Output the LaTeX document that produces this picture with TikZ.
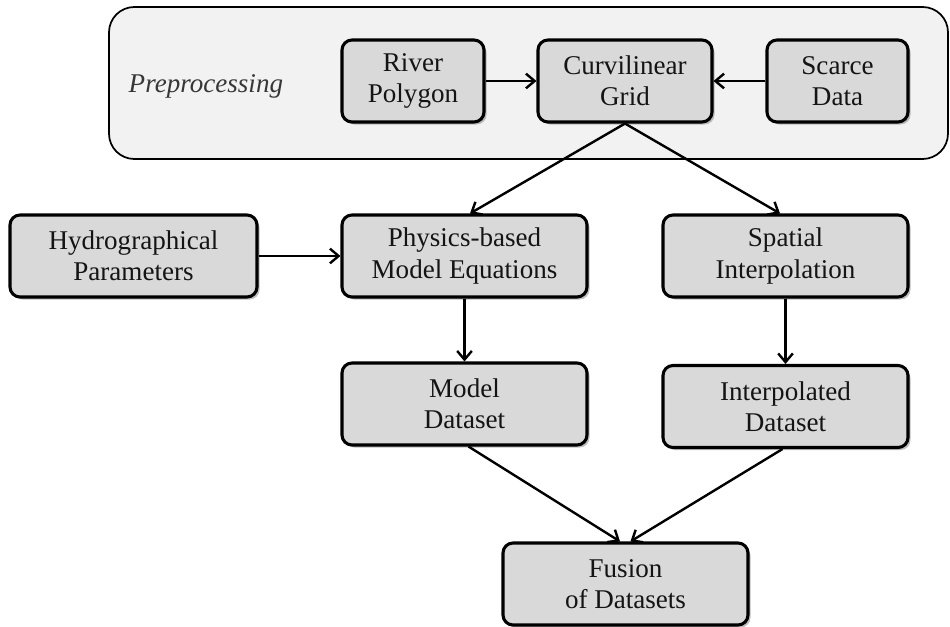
\documentclass[tikz,border=0pt]{standalone}
\usepackage{fontspec}
\setmainfont{Liberation Serif}
\usetikzlibrary{arrows.meta,shadows,calc}
\definecolor{boxfill}{HTML}{D9D9D9}
\definecolor{panelfill}{HTML}{F2F2F2}
\definecolor{ink}{HTML}{141414}

\begin{document}
\begin{tikzpicture}[x=0.75pt,y=-0.75pt,
  stage/.style={draw=black, line width=2.3pt, rounded corners=7.5pt, fill=boxfill,
    text=ink, align=center, font=\fontsize{20.3}{23.3}\selectfont,
    minimum width=183.75pt, minimum height=61.5pt, inner sep=0pt,
    drop shadow={shadow xshift=1.9pt, shadow yshift=-1.9pt, fill=black!55, opacity=0.45}},
  flow/.style={line width=1.8pt, -{Straight Barb[length=6.5pt,width=11pt]}}]

\useasboundingbox (0,0) rectangle (950,627);
\fill[white] (0,0) rectangle (950,627);

% preprocessing panel
\node[draw=black, line width=1.3pt, fill=panelfill, rounded corners=19pt,
      minimum width=629.25pt, minimum height=114pt, inner sep=0pt] (pre) at (528.5,83) {};
\node[font=\itshape\fontsize{20.3}{23.3}\selectfont, text=ink!85, anchor=west] (pretitle) at (124,86) {Preprocessing};

% process boxes
\node[stage, minimum width=106.5pt] (river) at (413,81) {River\\Polygon};
\node[stage, minimum width=130.5pt] (grid) at (625,81) {Curvilinear\\Grid};
\node[stage, minimum width=105.75pt] (scarce) at (837.5,81) {Scarce\\Data};
\node[stage, minimum width=185.25pt] (hydro) at (133.5,256) {Hydrographical\\Parameters};
\node[stage] (physics) at (464.5,256) {Physics-based\\Model Equations};
\node[stage] (spatial) at (785.5,256) {Spatial\\Interpolation};
\node[stage] (model) at (464.5,404) {Model\\Dataset};
\node[stage] (interp) at (785.5,406.5) {Interpolated\\Dataset};
\node[stage] (fusion) at (625.5,584) {Fusion\\of Datasets};

% connectors
\draw[flow] (river) -- (grid);
\draw[flow] (scarce) -- (grid);
\draw[flow] (hydro) -- (physics);
\draw[flow] (grid.south) -- ($(physics.north)+(5.5,0)$);
\draw[flow] (grid.south) -- ($(spatial.north)+(-5.5,0)$);
\draw[flow] (physics) -- (model);
\draw[flow] (spatial) -- (interp);
\draw[flow] ($(model.south)+(4,0)$) -- ($(fusion.north)+(-5.5,0)$);
\draw[flow] ($(interp.south)+(-3,0)$) -- ($(fusion.north)+(5,0)$);
\end{tikzpicture}
\end{document}
